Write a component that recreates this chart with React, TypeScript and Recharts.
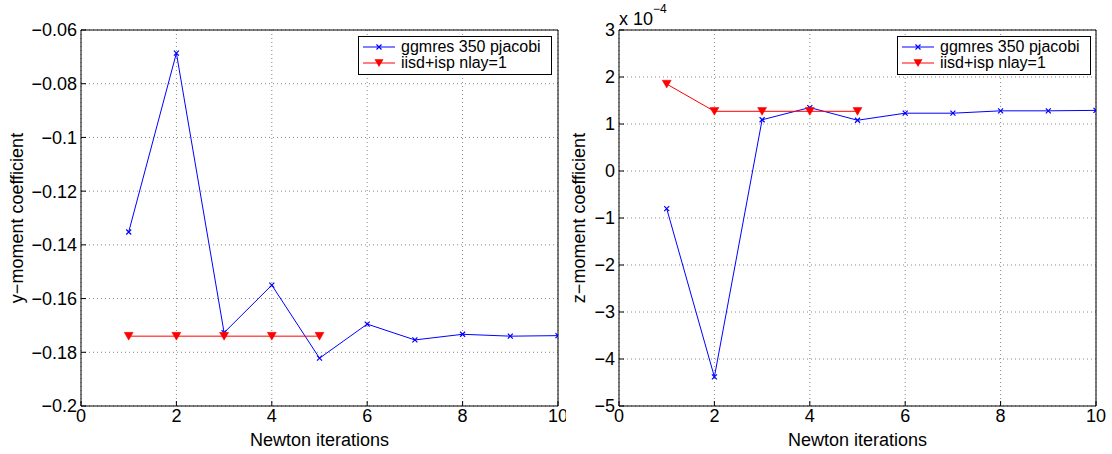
import React from 'react';
import { LineChart, Line, XAxis, YAxis, CartesianGrid, Legend, Label } from 'recharts';

const FONT = '"Liberation Sans", Arial, Helvetica, sans-serif';

// Newton iteration numbers
const iterations = [1, 2, 3, 4, 5, 6, 7, 8, 9, 10];
const iisdIterations = [1, 2, 3, 4, 5];

// y-moment coefficient
const yMomentGgmres = [-0.1352, -0.0686, -0.1727, -0.155, -0.1822, -0.1695, -0.1754, -0.1733, -0.174, -0.1738];
const yMomentIisd = [-0.174, -0.174, -0.174, -0.174, -0.174];

// z-moment coefficient (in units of 1e-4)
const zMomentGgmres = [-0.8, -4.38, 1.09, 1.35, 1.08, 1.23, 1.23, 1.28, 1.28, 1.29];
const zMomentIisd = [1.85, 1.27, 1.27, 1.27, 1.27];

const xTicks = [0, 2, 4, 6, 8, 10];
const yTicks = [-0.2, -0.18, -0.16, -0.14, -0.12, -0.1, -0.08, -0.06];
const zTicks = [-5, -4, -3, -2, -1, 0, 1, 2, 3];

const seriesNames = ['ggmres 350 pjacobi', 'iisd+isp nlay=1'];
const BLUE = '#0000ff';
const RED = '#ff0000';

const fmt = (v: number) => (v < 0 ? '\u2212' + String(Math.abs(v)) : String(v));

const CrossDot = (props: any) => {
  const { cx, cy, index } = props;
  if (cx == null || cy == null) return <g key={'c' + index} />;
  const s = 2.5;
  return (
    <path
      key={'c' + index}
      d={`M${cx - s},${cy - s}L${cx + s},${cy + s}M${cx - s},${cy + s}L${cx + s},${cy - s}`}
      stroke={BLUE}
      strokeWidth={1.2}
      fill="none"
    />
  );
};

const TriDot = (props: any) => {
  const { cx, cy, index } = props;
  if (cx == null || cy == null) return <g key={'t' + index} />;
  return (
    <path
      key={'t' + index}
      d={`M${cx - 4.5},${cy - 3.8}L${cx + 4.5},${cy - 3.8}L${cx},${cy + 4}Z`}
      fill={RED}
      stroke={RED}
      strokeWidth={0.5}
    />
  );
};

const LegendBox = () => (
  <div
    style={{
      border: '1px solid #000',
      background: '#fff',
      width: 192,
      paddingTop: 2,
      paddingBottom: 3,
      fontFamily: FONT,
      fontSize: 16,
      color: '#000',
      lineHeight: '16px',
    }}
  >
    {seriesNames.map((name, i) => (
      <div key={name} style={{ display: 'flex', alignItems: 'center', height: 16 }}>
        <svg width={40} height={16} style={{ display: 'block' }}>
          <line x1={4} y1={8} x2={36} y2={8} stroke={i === 0 ? BLUE : RED} strokeWidth={1} />
          {i === 0 ? (
            <path d="M17.5,5.5L22.5,10.5M17.5,10.5L22.5,5.5" stroke={BLUE} strokeWidth={1.2} />
          ) : (
            <path d="M15.5,4.2L24.5,4.2L20,12Z" fill={RED} />
          )}
        </svg>
        <span style={{ marginLeft: 2, whiteSpace: 'nowrap' }}>{name}</span>
      </div>
    ))}
  </div>
);

type PanelProps = {
  width: number;
  yAxisWidth: number;
  rightMargin: number;
  blue: number[];
  red: number[];
  yDomain: [number, number];
  yTickVals: number[];
  yLabel: string;
  yLabelX: number;
  exponent?: string;
  legendLeft: number;
};

function Panel(p: PanelProps) {
  const blueData = iterations.map((x, i) => ({ x, v: p.blue[i] }));
  const redData = iisdIterations.map((x, i) => ({ x, v: p.red[i] }));
  const tickStyle = { fill: '#000', fontSize: 18, fontFamily: FONT };
  return (
    <LineChart
      width={p.width}
      height={454}
      margin={{ top: 29, right: p.rightMargin, bottom: 0, left: 0 }}
      style={{ fontFamily: FONT }}
    >
      <CartesianGrid stroke="#888" strokeDasharray="1 3" strokeWidth={1} />
      <XAxis
        dataKey="x"
        type="number"
        domain={[0, 10]}
        ticks={xTicks}
        interval={0}
        allowDataOverflow
        height={48}
        tickSize={-5}
        tickMargin={8}
        tick={tickStyle}
        axisLine={{ stroke: '#000', strokeWidth: 1 }}
        tickLine={{ stroke: '#000' }}
        tickFormatter={fmt}
      >
        <Label
          content={(lp: any) => {
            const vb = lp.viewBox;
            return (
              <text x={vb.x + vb.width / 2} y={vb.y + vb.height - 8} textAnchor="middle" fontSize={18} fontFamily={FONT} fill="#000">
                Newton iterations
              </text>
            );
          }}
        />
      </XAxis>
      <XAxis
        xAxisId="top"
        orientation="top"
        type="number"
        domain={[0, 10]}
        ticks={xTicks}
        interval={0}
        allowDataOverflow
        height={1}
        tickSize={-5}
        tick={false}
        axisLine={{ stroke: '#000', strokeWidth: 1 }}
        tickLine={{ stroke: '#000' }}
      >
        {p.exponent ? (
          <Label
            content={(lp: any) => {
              const vb = lp.viewBox;
              return (
                <text x={vb.x} y={25} fontSize={18} fontFamily={FONT} fill="#000">
                  x 10
                  <tspan dy={-12} fontSize={12}>
                    {p.exponent}
                  </tspan>
                </text>
              );
            }}
          />
        ) : null}
      </XAxis>
      <YAxis
        type="number"
        domain={p.yDomain}
        ticks={p.yTickVals}
        interval={0}
        allowDataOverflow
        width={p.yAxisWidth}
        tickSize={-5}
        tickMargin={9}
        tick={tickStyle}
        axisLine={{ stroke: '#000', strokeWidth: 1 }}
        tickLine={{ stroke: '#000' }}
        tickFormatter={fmt}
      >
        <Label
          content={(lp: any) => {
            const vb = lp.viewBox;
            const cy = vb.y + vb.height / 2;
            return (
              <text
                x={p.yLabelX}
                y={cy}
                transform={`rotate(-90 ${p.yLabelX} ${cy})`}
                textAnchor="middle"
                fontSize={18}
                fontFamily={FONT}
                fill="#000"
              >
                {p.yLabel}
              </text>
            );
          }}
        />
      </YAxis>
      <YAxis
        yAxisId="right"
        orientation="right"
        type="number"
        domain={p.yDomain}
        ticks={p.yTickVals}
        interval={0}
        allowDataOverflow
        width={1}
        tickSize={-5}
        tick={false}
        axisLine={{ stroke: '#000', strokeWidth: 1 }}
        tickLine={{ stroke: '#000' }}
      />
      <Legend
        layout="vertical"
        align="center"
        verticalAlign="middle"
        content={() => <LegendBox />}
        wrapperStyle={{ top: 36, left: p.legendLeft, width: 194, bottom: 'auto', right: 'auto' }}
      />
      <Line
        data={blueData}
        dataKey="v"
        name={seriesNames[0]}
        stroke={BLUE}
        strokeWidth={1}
        dot={CrossDot}
        activeDot={false}
        isAnimationActive={false}
      />
      <Line
        data={redData}
        dataKey="v"
        name={seriesNames[1]}
        stroke={RED}
        strokeWidth={1}
        dot={TriDot}
        activeDot={false}
        isAnimationActive={false}
      />
    </LineChart>
  );
}

export default function App() {
  return (
    <div style={{ position: 'absolute', left: 0, top: 0, width: 1112, height: 454, background: '#fff', overflow: 'hidden' }}>
      <div style={{ position: 'absolute', left: 0, top: 0, width: 566, height: 454, overflow: 'hidden' }}>
        <Panel
          width={566}
          yAxisWidth={81}
          rightMargin={7}
          blue={yMomentGgmres}
          red={yMomentIisd}
          yDomain={[-0.2, -0.06]}
          yTickVals={yTicks}
          yLabel={'y\u2212moment coefficient'}
          yLabelX={23}
          legendLeft={358}
        />
      </div>
      <div style={{ position: 'absolute', left: 566, top: 0, width: 546, height: 454, overflow: 'hidden' }}>
        <Panel
          width={546}
          yAxisWidth={53}
          rightMargin={15}
          blue={zMomentGgmres}
          red={zMomentIisd}
          yDomain={[-5, 3]}
          yTickVals={zTicks}
          yLabel={'z\u2212moment coefficient'}
          yLabelX={19}
          exponent={'\u22124'}
          legendLeft={331}
        />
      </div>
    </div>
  );
}
